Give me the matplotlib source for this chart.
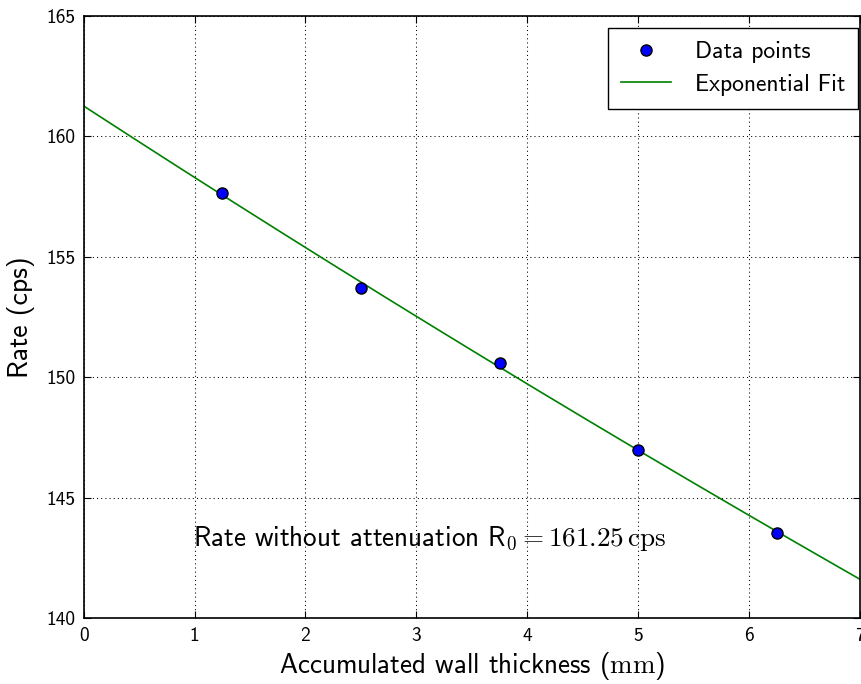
import matplotlib
import numpy as np

matplotlib.use("Agg")
import matplotlib.pyplot as plt  # noqa: E402

# ----------------------------------------------------------------------------
# Data
# ----------------------------------------------------------------------------
thickness_mm = [1.25, 2.5, 3.75, 5.0, 6.25]
rate_cps = [157.65, 153.70, 150.59, 146.97, 143.53]

# Exponential fit R(d) = R0 * exp(-mu * d)
R0 = 161.25
MU = 0.01854

X_TICKS = [0, 1, 2, 3, 4, 5, 6, 7]
Y_TICKS = [140, 145, 150, 155, 160, 165]

plt.rcParams["font.family"] = ["cmss10", "DejaVu Sans"]
plt.rcParams["mathtext.fontset"] = "cm"
plt.rcParams["axes.unicode_minus"] = False

# ----------------------------------------------------------------------------
# Plot
# ----------------------------------------------------------------------------
fig = plt.figure(figsize=(8.62, 6.84), dpi=100)
ax = fig.add_axes([0.097, 0.0958, 0.9007, 0.8815])

d_fit = np.linspace(0, 7, 200)
ax.plot(thickness_mm, rate_cps, "o", color="b", markeredgecolor="k",
        markeredgewidth=1.0, markersize=8, label="Data points", zorder=3)
ax.plot(d_fit, R0 * np.exp(-MU * d_fit), "-", color="g", lw=1.2,
        label="Exponential Fit", zorder=2)

ax.text(0.99, 143.0,
        r"Rate without attenuation $\mathsf{R}_0 = \mathsf{161.25}\,\mathrm{cps}$",
        fontsize=19.5, va="baseline", ha="left")

ax.set_xlim(0, 7)
ax.set_ylim(140, 165)
ax.set_xticks(X_TICKS)
ax.set_yticks(Y_TICKS)
ax.tick_params(direction="in", top=True, right=True, length=5, width=0.8,
               labelsize=14, pad=6)
ax.grid(True, color="k", linestyle=(0, (1, 3)), linewidth=0.75)
for s in ax.spines.values():
    s.set_linewidth(1.2)

ax.set_xlabel(r"Accumulated wall thickness ($\mathrm{mm}$)", fontsize=19.5)
ax.set_ylabel(r"Rate (cps)", fontsize=20, labelpad=8)

leg = ax.legend(loc="upper right", bbox_to_anchor=(0.9974, 0.9793),
                borderaxespad=0, numpoints=1, fontsize=17, fancybox=False,
                framealpha=1.0, edgecolor="k", handlelength=2.1,
                handletextpad=1.0, labelspacing=0.45, borderpad=0.55)
leg.get_frame().set_linewidth(1.0)

fig.savefig("out.png", dpi=100)
plt.close(fig)
